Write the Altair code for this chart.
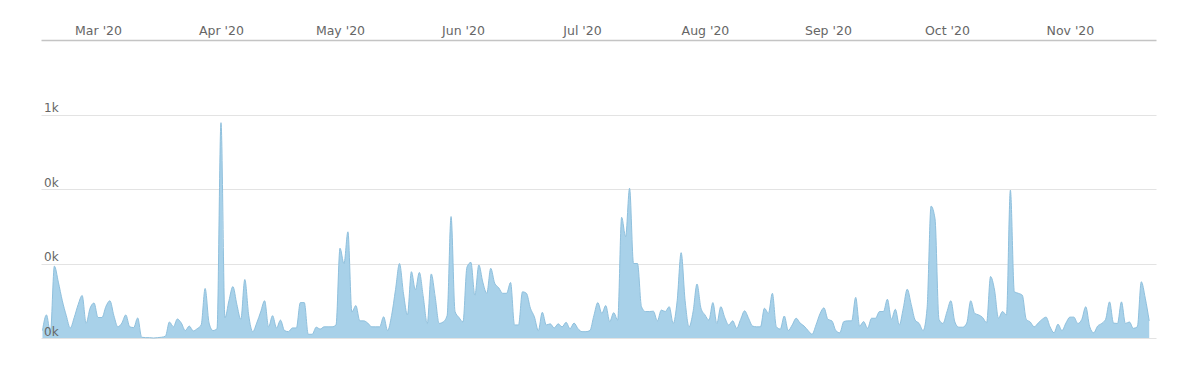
import altair as alt
import pandas as pd

# Daily values, 16 Feb 2020 .. 21 Nov 2020
feb = [20, 62, 15, 193, 150, 100, 60, 27, 55, 90, 114, 40, 80, 94]
mar = [55, 55, 85, 100, 60, 30, 40, 62, 30, 28, 54, 2, 1, 1, 0, 1, 2, 5, 43, 30,
       51, 40, 20, 32, 19, 25, 35, 133, 40, 20, 25]
apr = [578, 54, 100, 138, 90, 50, 157, 60, 17, 40, 70, 100, 30, 60, 27, 48, 20, 17,
       27, 27, 95, 95, 10, 10, 29, 24, 30, 30, 30, 35]
may = [241, 200, 285, 70, 87, 46, 46, 40, 30, 30, 30, 57, 20, 60, 130, 200, 120, 62,
       178, 129, 176, 110, 39, 172, 110, 39, 43, 60, 326, 71, 55]
jun = [43, 190, 203, 115, 196, 150, 120, 187, 147, 135, 120, 120, 149, 35, 35, 124,
       120, 80, 57, 20, 69, 35, 38, 27, 38, 30, 42, 25, 40, 25]
jul = [17, 17, 20, 60, 95, 66, 87, 44, 68, 48, 324, 272, 402, 200, 200, 84, 71, 71,
       72, 46, 75, 71, 84, 39, 100, 229, 100, 30, 70, 145, 80]
aug = [62, 48, 95, 39, 84, 55, 35, 46, 26, 50, 73, 53, 32, 30, 30, 80, 66, 120, 30,
       24, 59, 20, 35, 53, 40, 32, 20, 10, 35, 65, 81]
sep = [50, 46, 20, 14, 44, 46, 46, 109, 32, 44, 26, 53, 53, 71, 71, 104, 50, 77, 35,
       80, 131, 90, 48, 39, 20, 80, 354, 320, 50, 39]
oct_ = [70, 100, 43, 29, 29, 40, 100, 66, 62, 55, 41, 165, 129, 53, 71, 62, 397, 124,
        120, 115, 50, 43, 30, 40, 50, 56, 30, 14, 37, 20, 40]
nov = [56, 56, 39, 50, 84, 30, 14, 32, 39, 50, 97, 40, 39, 97, 39, 43, 26, 30, 151,
       107, 46]

start_date = "2020-02-16"
y_ticks = [0, 200, 400, 600]
y_tick_labels = ["0k", "0k", "0k", "1k"]
y_max = 800

values = feb + mar + apr + may + jun + jul + aug + sep + oct_ + nov
dates = pd.date_range(start_date, periods=len(values), freq="D")
df = pd.DataFrame({"date": dates.strftime("%Y-%m-%d"), "value": values})
df_y = pd.DataFrame({"v": y_ticks, "label": y_tick_labels})

month_ticks = [alt.DateTime(year=2020, month=m, date=1, utc=True) for m in range(3, 12)]
x_scale = alt.Scale(
    type="utc",
    domain=[alt.DateTime(year=2020, month=2, date=15, hours=15, utc=True),
            alt.DateTime(year=2020, month=11, date=22, hours=17, utc=True)],
)
y_scale = alt.Scale(domain=[0, y_max], nice=False)

area = alt.Chart(df).mark_area(
    interpolate="monotone",
    color="#a8d1e9",
    opacity=1,
    line={"color": "#8fc0dd", "strokeWidth": 1},
).encode(
    x=alt.X("date:T", scale=x_scale, title=None,
            axis=alt.Axis(orient="top", values=month_ticks, format="%b '%y",
                          ticks=False, grid=False, labelColor="#666666",
                          labelFont="DejaVu Sans", labelFontSize=12.5,
                          labelBaseline="alphabetic", labelPadding=6,
                          domainColor="#c4c4c4", domainWidth=1.5)),
    y=alt.Y("value:Q", scale=y_scale, title=None,
            axis=alt.Axis(values=y_ticks, labels=False, ticks=False, domain=False,
                          grid=True, gridColor="#e3e3e3", gridWidth=1)),
)

labels = alt.Chart(df_y).mark_text(
    align="left", baseline="alphabetic", dx=3, dy=-2.5,
    font="DejaVu Sans", fontSize=12, color="#666666",
).encode(
    x=alt.value(0),
    y=alt.Y("v:Q", scale=y_scale),
    text="label:N",
)

chart = alt.layer(area, labels).properties(
    width=1115, height=298,
    autosize=alt.AutoSizeParams(type="none"),
    padding={"left": 33, "top": 32, "right": 36, "bottom": 20},
).configure_view(stroke=None)

chart.save("out.html", embed_options={"renderer": "svg", "actions": False})
